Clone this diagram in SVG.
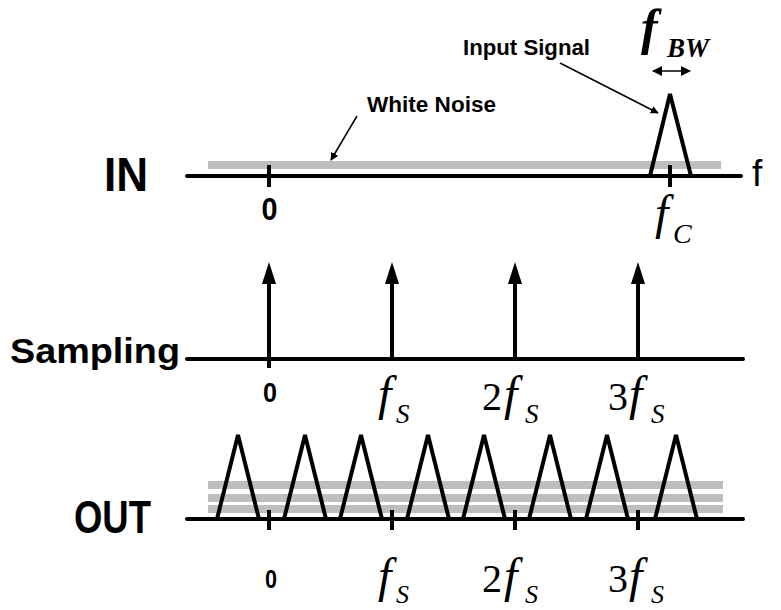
<svg xmlns="http://www.w3.org/2000/svg" width="781" height="610" viewBox="0 0 781 610">
<style>
.ax{stroke:#000;stroke-width:4;stroke-linecap:round;fill:none}
.tk{stroke:#000;stroke-width:4;fill:none}
.tri{stroke:#000;stroke-width:4;fill:none;stroke-linejoin:miter}
.nz{fill:#bebebe}
.lbl{font-family:"Liberation Sans",Arial,sans-serif;font-weight:bold;fill:#000}
.ax-f{font-family:"Liberation Sans",Arial,sans-serif;fill:#000}
.m{font-family:"Liberation Serif","Times New Roman",serif;font-style:italic;fill:#000}
.n{font-family:"Liberation Serif","Times New Roman",serif;fill:#000}
.ln{stroke:#000;stroke-width:1.5;fill:none}
</style>
<defs>
<marker id="ah" viewBox="0 0 10 10" refX="9" refY="5" markerWidth="8" markerHeight="8" markerUnits="userSpaceOnUse" orient="auto">
<path d="M0,0 L10,5 L0,10 z" fill="#000"/>
</marker>
<marker id="ahs" viewBox="0 0 10 10" refX="9" refY="5" markerWidth="12" markerHeight="10" markerUnits="userSpaceOnUse" orient="auto-start-reverse">
<path d="M0,0 L10,5 L0,10 z" fill="#000"/>
</marker>
</defs>

<!-- IN row -->
<g id="in-row">
<rect class="nz" x="208" y="161" width="513" height="8"/>
<line class="ax" x1="187" y1="176" x2="741" y2="176"/>
<line class="tk" x1="269" y1="165" x2="269" y2="187"/>
<line class="tk" x1="670" y1="165" x2="670" y2="187"/>
<polyline class="tri" points="650,176 670,94 691,176"/>
<text class="lbl" x="104" y="191" font-size="48" textLength="44" lengthAdjust="spacingAndGlyphs">IN</text>
<text class="ax-f" x="752" y="186" font-size="37">f</text>
<text class="lbl" x="269.5" y="220" font-size="32" text-anchor="middle" textLength="16" lengthAdjust="spacingAndGlyphs">0</text>
<text class="m" x="655" y="229" font-size="48">f</text>
<text class="m" x="673" y="243" font-size="28">C</text>
</g>

<g id="input-signal-label">
<text class="lbl" x="463" y="55" font-size="22" textLength="127" lengthAdjust="spacingAndGlyphs">Input Signal</text>
</g>
<g id="white-noise-label">
<text class="lbl" x="367" y="112" font-size="22" textLength="129" lengthAdjust="spacingAndGlyphs">White Noise</text>
</g>
<g id="fbw-label">
<text class="m" x="641" y="44" font-size="50" font-weight="bold">f</text>
<text class="m" x="667" y="57" font-size="27" font-weight="bold">BW</text>
</g>

<!-- Sampling row -->
<g id="sampling-row">
<line class="ax" x1="187" y1="359" x2="743" y2="359"/>
<line class="tk" x1="269" y1="359" x2="269" y2="368"/>
<text class="lbl" x="10" y="363" font-size="35" textLength="170" lengthAdjust="spacingAndGlyphs">Sampling</text>
<text class="lbl" x="270" y="402" font-size="28" text-anchor="middle" textLength="14" lengthAdjust="spacingAndGlyphs">0</text>
<text class="m" x="378" y="410" font-size="48">f</text>
<text class="m" x="396" y="423" font-size="27">S</text>
<text class="n" x="482" y="410" font-size="40">2</text>
<text class="m" x="504" y="410" font-size="48">f</text>
<text class="m" x="525" y="423" font-size="27">S</text>
<text class="n" x="608" y="410" font-size="40">3</text>
<text class="m" x="629" y="410" font-size="48">f</text>
<text class="m" x="651" y="423" font-size="27">S</text>
</g>

<!-- OUT row -->
<g id="out-row">
<rect class="nz" x="208" y="481" width="515" height="8"/>
<rect class="nz" x="208" y="494" width="515" height="8"/>
<rect class="nz" x="208" y="505" width="515" height="8"/>
<line class="ax" x1="187" y1="519" x2="743" y2="519"/>
<line class="tk" x1="269" y1="510" x2="269" y2="530"/>
<line class="tk" x1="392" y1="510" x2="392" y2="530"/>
<line class="tk" x1="515" y1="510" x2="515" y2="530"/>
<line class="tk" x1="638" y1="510" x2="638" y2="530"/>
<polyline class="tri" points="217,519 238,435 259,519"/>
<polyline class="tri" points="284,519 305,435 326,519"/>
<polyline class="tri" points="340,519 361,435 382,519"/>
<polyline class="tri" points="407,519 428,435 449,519"/>
<polyline class="tri" points="463,519 484,435 505,519"/>
<polyline class="tri" points="529,519 550,435 571,519"/>
<polyline class="tri" points="586,519 607,435 628,519"/>
<polyline class="tri" points="655,519 676,435 697,519"/>
<text class="lbl" x="74" y="533" font-size="46" textLength="77" lengthAdjust="spacingAndGlyphs">OUT</text>
<text class="lbl" x="271" y="588" font-size="25" text-anchor="middle" textLength="12" lengthAdjust="spacingAndGlyphs">0</text>
<text class="m" x="378" y="592" font-size="48">f</text>
<text class="m" x="396" y="603" font-size="26">S</text>
<text class="n" x="482" y="592" font-size="40">2</text>
<text class="m" x="504" y="592" font-size="48">f</text>
<text class="m" x="525" y="603" font-size="26">S</text>
<text class="n" x="608" y="592" font-size="40">3</text>
<text class="m" x="629" y="592" font-size="48">f</text>
<text class="m" x="651" y="603" font-size="26">S</text>
</g>

<!-- connectors -->
<g id="connectors">
<line class="ln" x1="357" y1="116" x2="331" y2="160" marker-end="url(#ah)"/>
<line class="ln" x1="560" y1="63" x2="658" y2="113" marker-end="url(#ah)"/>
<line class="ln" x1="653" y1="71" x2="690" y2="71" stroke-width="2" marker-start="url(#ahs)" marker-end="url(#ahs)"/>
<g id="sampling-arrows" stroke="#000" stroke-width="4" fill="#000">
<line x1="269" y1="359" x2="269" y2="280"/>
<polygon points="269,262 262,284 276,284" stroke="none"/>
<line x1="392" y1="359" x2="392" y2="280"/>
<polygon points="392,262 385,284 399,284" stroke="none"/>
<line x1="515" y1="359" x2="515" y2="280"/>
<polygon points="515,262 508,284 522,284" stroke="none"/>
<line x1="638" y1="359" x2="638" y2="280"/>
<polygon points="638,262 631,284 645,284" stroke="none"/>
</g>
</g>
</svg>
